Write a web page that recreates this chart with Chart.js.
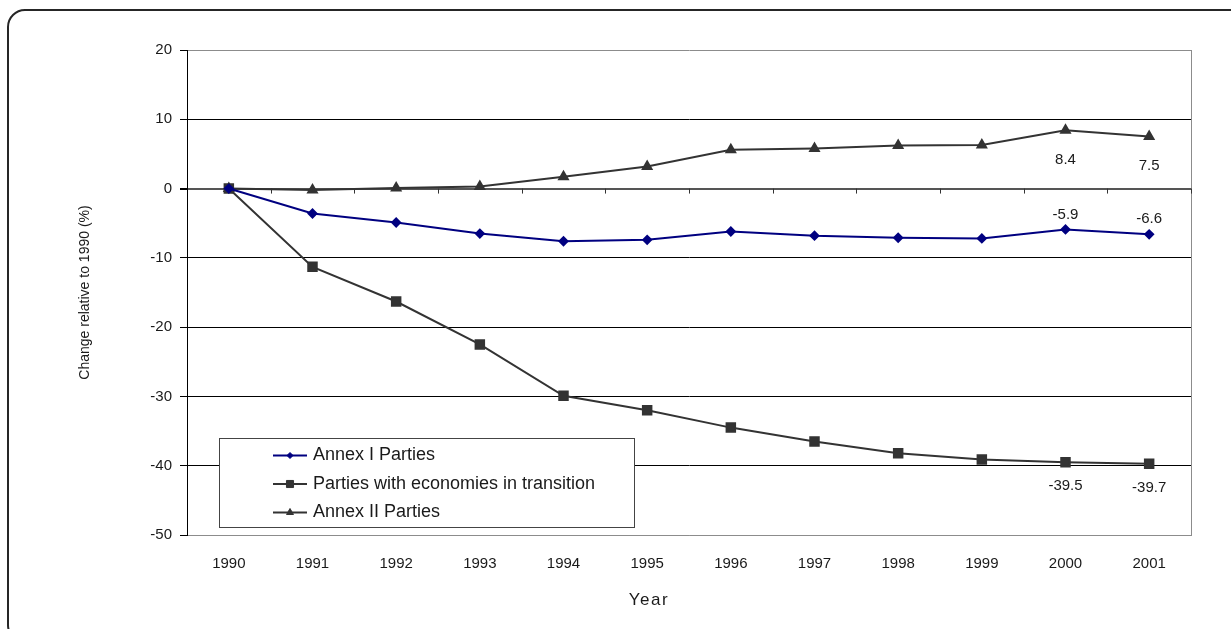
<!DOCTYPE html>
<html>
<head>
<meta charset="utf-8">
<script src="https://cdn.jsdelivr.net/npm/chart.js@4/dist/chart.umd.min.js"></script>
<style>
  html, body { margin: 0; padding: 0; background: #fff; }
  #wrap { position: relative; width: 1231px; height: 629px; overflow: hidden; }
  #frame { position: absolute; left: 7px; top: 9px; width: 1240px; height: 634px;
           border: 2px solid #262626; border-radius: 18px; box-sizing: border-box; }
  #chart { position: absolute; left: 0; top: 0; }
</style>
</head>
<body>
<div id="wrap">
  <div id="frame"></div>
  <canvas id="chart" width="1231" height="629"></canvas>
</div>
<script>
// ---- data ----
const years = ['1990', '1991', '1992', '1993', '1994', '1995', '1996', '1997', '1998', '1999', '2000', '2001'];
const annexI = [0, -3.6, -4.9, -6.5, -7.6, -7.4, -6.2, -6.8, -7.1, -7.2, -5.9, -6.6];
const transition = [0, -11.3, -16.3, -22.5, -29.9, -32.0, -34.5, -36.5, -38.2, -39.1, -39.5, -39.7];
const annexII = [0, -0.2, 0.1, 0.3, 1.7, 3.2, 5.6, 5.8, 6.2, 6.3, 8.4, 7.5];
const seriesNames = ['Annex I Parties', 'Parties with economies in transition', 'Annex II Parties'];
const labelledYears = ['2000', '2001'];
const yMin = -50, yMax = 20, yStep = 10;
const xTitle = 'Year';
const yTitle = 'Change relative to 1990 (%)';

const FONT = "'Liberation Sans', Arial, sans-serif";
Chart.defaults.font.family = FONT;
Chart.defaults.font.size = 15;
Chart.defaults.color = '#1a1a1a';

// plot-area right edge + small ticks hanging from the zero axis
const frameLines = {
  id: 'frameLines',
  beforeDatasetsDraw(chart) {
    const { ctx, chartArea: a, scales: { x, y } } = chart;
    ctx.save();
    ctx.strokeStyle = '#8c8c8c';
    ctx.lineWidth = 1;
    ctx.beginPath();
    ctx.moveTo(a.right + 0.5, a.top);
    ctx.lineTo(a.right + 0.5, a.bottom);
    ctx.stroke();

    const y0 = y.getPixelForValue(0);
    const half = (x.getPixelForValue(1) - x.getPixelForValue(0)) / 2;
    ctx.strokeStyle = '#333';
    ctx.beginPath();
    years.forEach((_, i) => {
      const px = Math.round(x.getPixelForValue(i) + half) + 0.5;
      ctx.moveTo(px, y0);
      ctx.lineTo(px, y0 + 5);
    });
    ctx.stroke();
    ctx.restore();
  }
};

// value labels on the last two years
const pointLabels = {
  id: 'pointLabels',
  afterDatasetsDraw(chart) {
    const { ctx } = chart;
    ctx.save();
    ctx.font = '15px ' + FONT;
    ctx.fillStyle = '#1a1a1a';
    ctx.textAlign = 'center';
    ctx.textBaseline = 'middle';
    chart.data.datasets.forEach((ds, di) => {
      const meta = chart.getDatasetMeta(di);
      labelledYears.forEach(yr => {
        const i = years.indexOf(yr);
        const pt = meta.data[i];
        ctx.fillText(ds.data[i].toFixed(1), pt.x, pt.y + ds.labelDy);
      });
    });
    ctx.restore();
  }
};

// axis titles
const axisTitles = {
  id: 'axisTitles',
  afterDraw(chart) {
    const { ctx, chartArea: a } = chart;
    ctx.save();
    ctx.fillStyle = '#1a1a1a';
    ctx.textAlign = 'center';
    ctx.textBaseline = 'middle';
    ctx.font = '17px ' + FONT;
    ctx.letterSpacing = '1.5px';
    ctx.fillText(xTitle, 649, 600);
    ctx.letterSpacing = '0px';
    ctx.font = '14px ' + FONT;
    ctx.translate(85, (a.top + a.bottom) / 2);
    ctx.rotate(-Math.PI / 2);
    ctx.fillText(yTitle, 0, 0);
    ctx.restore();
  }
};

// boxed legend sitting inside the plot
const boxLegend = {
  id: 'boxLegend',
  afterDraw(chart, args, opts) {
    const { ctx } = chart;
    ctx.save();
    ctx.fillStyle = '#fff';
    ctx.fillRect(opts.left, opts.top, opts.width, opts.height);
    ctx.strokeStyle = '#444';
    ctx.lineWidth = 1;
    ctx.strokeRect(opts.left + 0.5, opts.top + 0.5, opts.width, opts.height);
    ctx.font = '18px ' + FONT;
    ctx.textBaseline = 'middle';
    chart.data.datasets.forEach((ds, i) => {
      const cy = opts.top + opts.firstRow + i * opts.rowGap;
      const x1 = opts.left + opts.lineStart;
      const x2 = x1 + opts.lineLen;
      ctx.strokeStyle = ds.borderColor;
      ctx.lineWidth = 2;
      ctx.beginPath();
      ctx.moveTo(x1, cy);
      ctx.lineTo(x2, cy);
      ctx.stroke();
      ctx.fillStyle = ds.backgroundColor;
      ctx.strokeStyle = ds.borderColor;
      ctx.lineWidth = 1;
      Chart.helpers.drawPoint(ctx, { pointStyle: ds.pointStyle, radius: ds.pointRadius - 1, rotation: 0, borderWidth: 1 }, (x1 + x2) / 2, cy);
      ctx.fillStyle = '#1a1a1a';
      ctx.fillText(ds.label, x2 + 6, cy);
    });
    ctx.restore();
  }
};

new Chart(document.getElementById('chart'), {
  type: 'line',
  data: {
    labels: years,
    datasets: [
      { label: seriesNames[0], data: annexI, borderColor: '#000080', backgroundColor: '#000080',
        pointStyle: 'rectRot', pointRadius: 4, borderWidth: 2, labelDy: -15 },
      { label: seriesNames[1], data: transition, borderColor: '#333', backgroundColor: '#333',
        pointStyle: 'rect', pointRadius: 6, borderWidth: 2, labelDy: 24 },
      { label: seriesNames[2], data: annexII, borderColor: '#333', backgroundColor: '#333',
        pointStyle: 'triangle', pointRadius: 5, borderWidth: 2, labelDy: 29 }
    ]
  },
  options: {
    responsive: false,
    animation: false,
    layout: { padding: { left: 100, right: 40, top: 50, bottom: 54 } },
    plugins: {
      legend: { display: false },
      tooltip: { enabled: false },
      boxLegend: { left: 219, top: 438, width: 415, height: 89, firstRow: 17.5, rowGap: 28.5, lineStart: 54, lineLen: 34 }
    },
    scales: {
      x: {
        offset: true,
        grid: { display: false },
        border: { display: true, color: '#8c8c8c' },
        ticks: { padding: 12, color: '#1a1a1a', maxRotation: 0 },
        afterFit: s => { s.height = 40; }
      },
      y: {
        min: yMin, max: yMax,
        ticks: { stepSize: yStep, padding: 8, color: '#1a1a1a' },
        border: { display: true, color: '#000' },
        grid: {
          tickLength: 7,
          tickColor: '#000',
          color: c => (c.tick.value === yMax || c.tick.value === yMin) ? '#8c8c8c'
                    : c.tick.value === 0 ? '#555' : '#000',
          lineWidth: c => c.tick.value === 0 ? 2 : 1
        },
        afterFit: s => { s.width = 87; }
      }
    }
  },
  plugins: [frameLines, pointLabels, axisTitles, boxLegend]
});
</script>
</body>
</html>
